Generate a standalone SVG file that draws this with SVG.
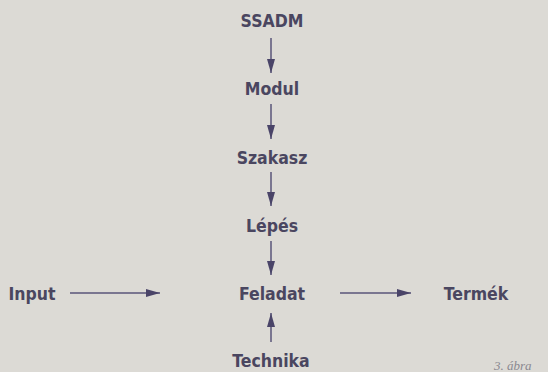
<svg xmlns="http://www.w3.org/2000/svg" width="548" height="372" viewBox="0 0 548 372">
<style>
.t{font-family:"DejaVu Sans Condensed","DejaVu Sans","Liberation Sans",sans-serif;font-stretch:condensed;font-weight:bold;font-size:17.5px;fill:#4a4660;text-anchor:middle}
.c{stroke:#5a5478;stroke-width:1.5;fill:none}
.cap{font-family:"Liberation Serif",serif;font-style:italic;font-size:13px;fill:#8a8890}
</style>
<defs>
<marker id="a" viewBox="0 0 14 8" refX="14" refY="4" markerWidth="14" markerHeight="8" markerUnits="userSpaceOnUse" orient="auto">
<path d="M0,0 L14,4 L0,8 Z" fill="#4a4468"/>
</marker>
</defs>
<rect width="548" height="372" fill="#dcdad5"/>
<g id="connectors">
<line class="c" x1="271" y1="38" x2="271" y2="73" marker-end="url(#a)"/>
<line class="c" x1="271" y1="104" x2="271" y2="139" marker-end="url(#a)"/>
<line class="c" x1="271" y1="172" x2="271" y2="206" marker-end="url(#a)"/>
<line class="c" x1="271" y1="241" x2="271" y2="275" marker-end="url(#a)"/>
<line class="c" x1="271" y1="342" x2="271" y2="313" marker-end="url(#a)"/>
<line class="c" x1="70" y1="293" x2="160" y2="293" marker-end="url(#a)"/>
<line class="c" x1="340" y1="293" x2="411" y2="293" marker-end="url(#a)"/>
</g>
<g id="ssadm"><text class="t" x="272" y="27">SSADM</text></g>
<g id="modul"><text class="t" x="272" y="95">Modul</text></g>
<g id="szakasz"><text class="t" x="272" y="164">Szakasz</text></g>
<g id="lepes"><text class="t" x="272" y="232">Lépés</text></g>
<g id="feladat"><text class="t" x="272" y="300">Feladat</text></g>
<g id="input"><text class="t" x="32" y="300">Input</text></g>
<g id="termek"><text class="t" x="476" y="300">Termék</text></g>
<g id="technika"><text class="t" x="271" y="367">Technika</text></g>
<text class="cap" x="494" y="370">3. ábra</text>
</svg>
